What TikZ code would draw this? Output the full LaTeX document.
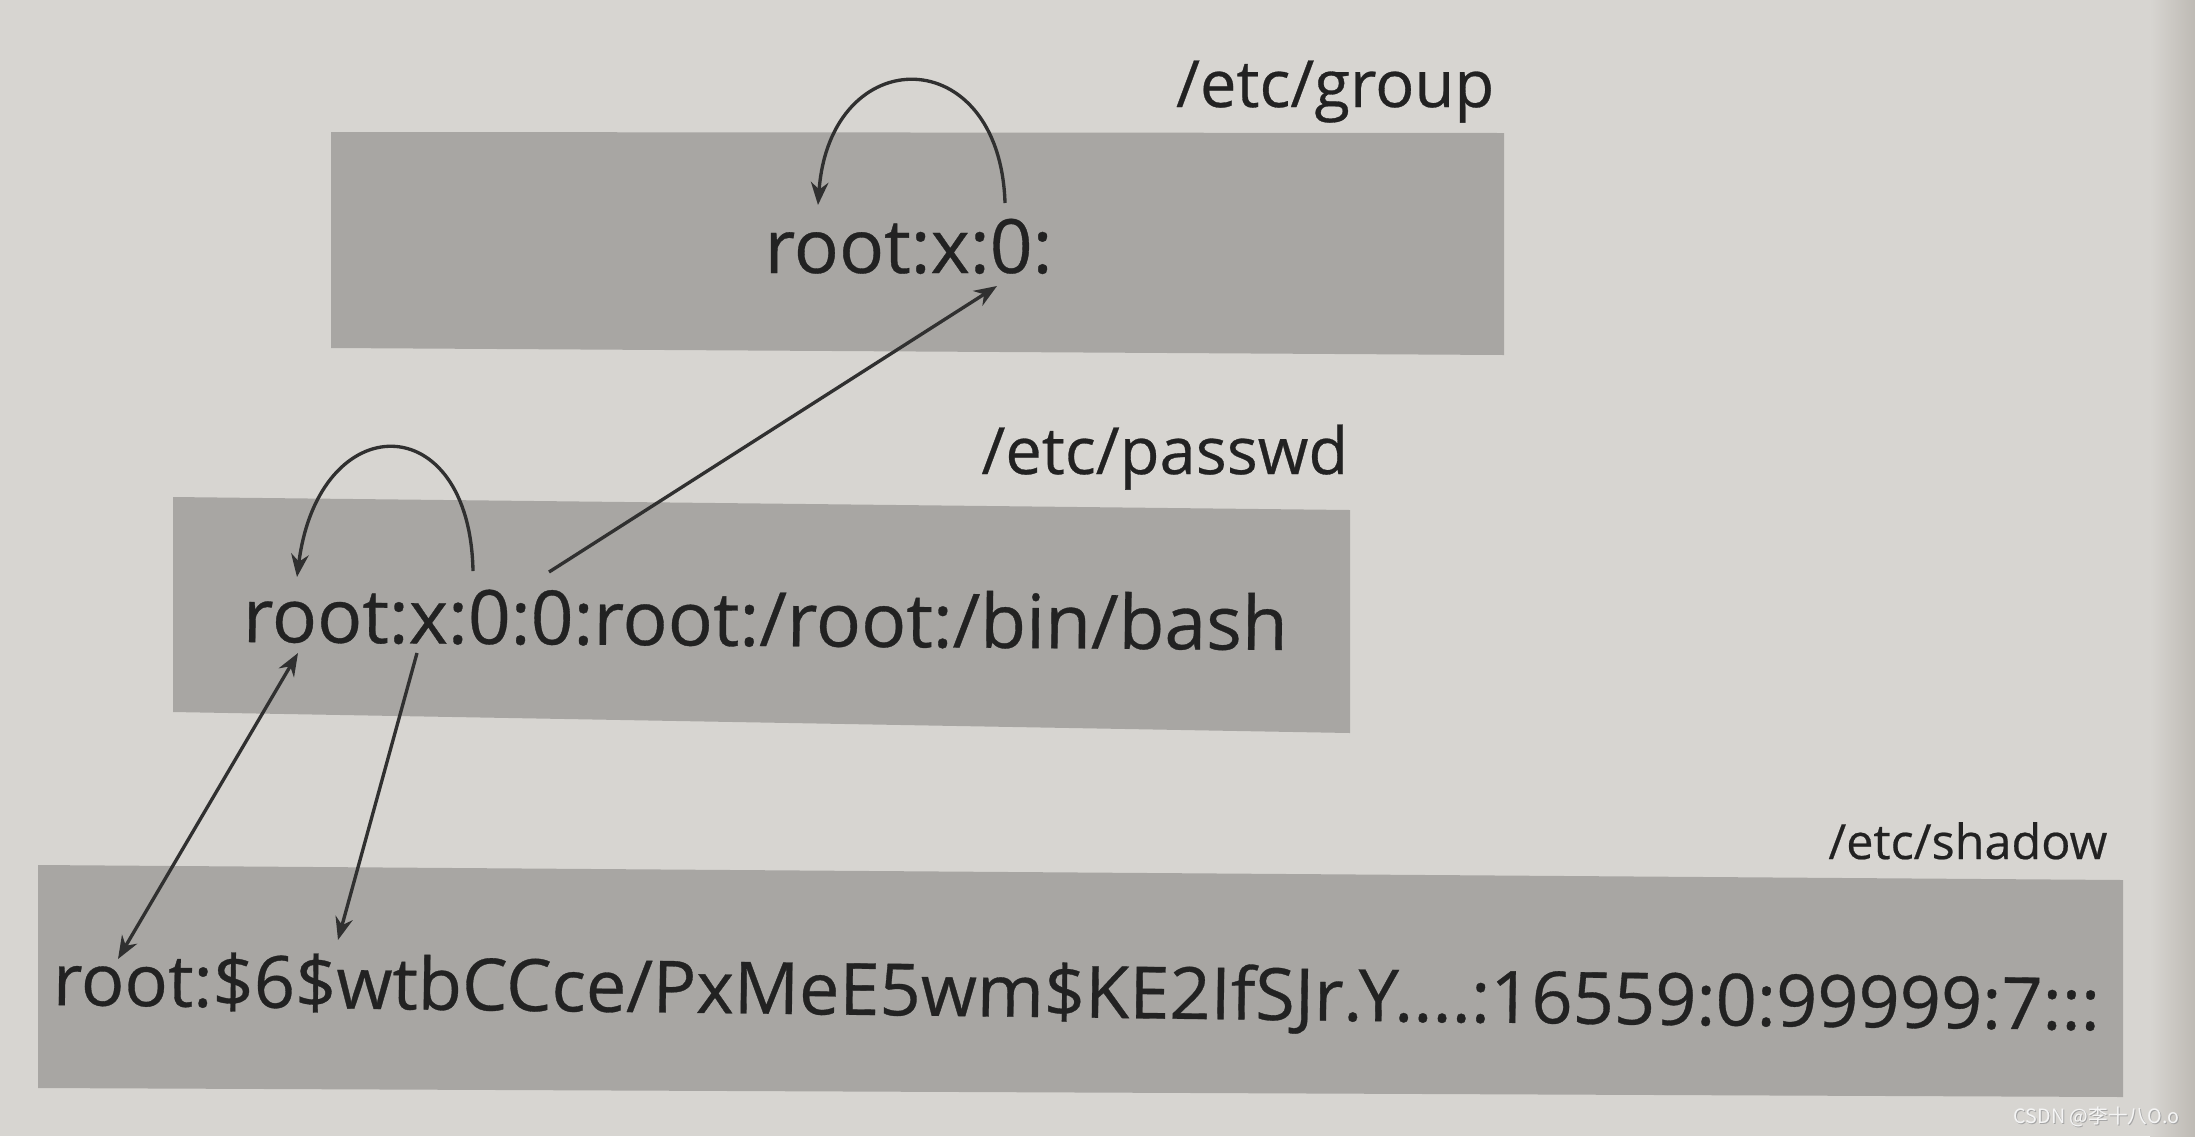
\documentclass[tikz,border=0pt]{standalone}
\usepackage{fontspec}
\setmainfont{Open Sans}
\newfontfamily\inkfont[FakeBold=0.45]{Open Sans}
\newfontfamily\wmfont{Noto Sans CJK SC}
\usetikzlibrary{arrows.meta}
\definecolor{paper}{RGB}{215,213,209}
\definecolor{pageedge}{RGB}{190,186,180}
\definecolor{bandgray}{RGB}{168,166,163}
\definecolor{ink}{RGB}{34,34,34}
\definecolor{wire}{RGB}{48,48,48}
\tikzset{
  bandfill/.style={fill=bandgray, draw=none},
  maintext/.style={font=\inkfont\fontsize{21.3pt}{24pt}\selectfont, text=ink, inner sep=0pt, anchor=base west},
  filelabel/.style={font=\inkfont\fontsize{18.5pt}{21pt}\selectfont, text=ink, inner sep=0pt, anchor=base east},
  link/.style={draw=wire, line width=0.95pt, -{Stealth[length=6.5pt,width=5pt]}},
  dlink/.style={draw=wire, line width=0.95pt, {Stealth[length=6.5pt,width=5pt]}-{Stealth[length=6.5pt,width=5pt]}},
}
\begin{document}
\begin{tikzpicture}[x=0.01cm,y=-0.01cm]
\useasboundingbox (0,0) rectangle (2195,1136);
% paper
\fill[paper] (0,0) rectangle (2195,1136);
\shade[left color=paper, right color=pageedge, draw=none] (2150,0) rectangle (2195,1136);

% grey bands
\fill[bandfill] (331,132) -- (1504,133) -- (1504,355) -- (331,348) -- cycle;
\fill[bandfill] (173,497) -- (1350,510) -- (1350,733) -- (173,712) -- cycle;
\fill[bandfill] (38,865) -- (2123,880) -- (2123,1097) -- (38,1088) -- cycle;

% file labels
\node[filelabel] (lgroup) at (1495,107) {/etc/group};
\node[filelabel] (lpasswd) at (1349,474) {/etc/passwd};
\node[filelabel, font=\inkfont\fontsize{13.8pt}{16pt}\selectfont] (lshadow) at (2108,859) {/etc/shadow};

% entries
\node[maintext] (grp) at (764,273) {root:x:0:};
\node[maintext, rotate=-0.44] (pwd) at (242,642) {root:x:0:0:root:/root:/bin/bash};
\node[maintext, font=\inkfont\fontsize{20.5pt}{24pt}\selectfont, rotate=-0.7] (shd) at (52,1005)
  {root:\$6\$wtbCCce/PxMeE5wm\$KE2IfSJr.Y....:16559:0:99999:7:::};

% attachment points on the entries
\coordinate (grpGid) at (1005,203);
\coordinate (grpName) at (818,205);
\coordinate (grpGidLow) at (997,286);
\coordinate (pwdUid) at (473,571);
\coordinate (pwdGid) at (549,572);
\coordinate (pwdName) at (297,577);
\coordinate (pwdNameLow) at (298,653);
\coordinate (pwdPass) at (417,653);
\coordinate (shdName) at (118,959);
\coordinate (shdHash) at (338,940);

% connectors
\draw[link] (grpGid) .. controls (1000,40) and (830,40) .. (grpName);
\draw[link] (pwdUid) .. controls (470,406) and (319,406) .. (pwdName);
\draw[link] (pwdGid) -- (grpGidLow);
\draw[dlink] (shdName) -- (pwdNameLow);
\draw[link] (pwdPass) -- (shdHash);

% watermark
\node[font=\wmfont\fontsize{5.6pt}{6pt}\selectfont, text=gray!70, inner sep=0pt, anchor=base east] (wmshadow) at (2181,1124) {CSDN @李十八O.o};
\node[font=\wmfont\fontsize{5.6pt}{6pt}\selectfont, text=white!96!black, inner sep=0pt, anchor=base east] (wm) at (2180,1123) {CSDN @李十八O.o};
\end{tikzpicture}
\end{document}
